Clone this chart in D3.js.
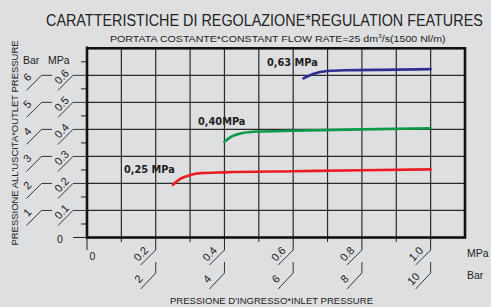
<!DOCTYPE html>
<html><head><meta charset="utf-8">
<script src="https://cdn.jsdelivr.net/npm/d3@7"></script>
<style>html,body{margin:0;padding:0;background:#dedfe1;}svg{display:block;}</style>
</head><body>
<script>
// ---- data ----
const xTicksMPa = ["0.2","0.4","0.6","0.8","1.0"];
const xTicksBar = ["2","4","6","8","10"];
const xTickVals = [0.2,0.4,0.6,0.8,1.0];
const yTicksMPa = ["0.1","0.2","0.3","0.4","0.5","0.6"];
const yTicksBar = ["1","2","3","4","5","6"];
const yTickVals = [0.1,0.2,0.3,0.4,0.5,0.6];
const seriesNames = ["0,25 MPa","0,40MPa","0,63 MPa"];
const redX   = [0.25,0.27,0.30,0.33,0.40,0.60,0.80,1.00];
const redY   = [0.195,0.216,0.231,0.238,0.241,0.245,0.249,0.252];
const greenX = [0.40,0.42,0.45,0.50,0.60,0.80,1.00];
const greenY = [0.354,0.373,0.386,0.392,0.395,0.400,0.404];
const blueX  = [0.63,0.66,0.70,0.75,0.90,1.00];
const blueY  = [0.589,0.606,0.616,0.619,0.621,0.623];

const W=491,H=307;
const svg=d3.select("body").append("svg").attr("width",W).attr("height",H);
const x=d3.scaleLinear().domain([0,1.1]).range([87,465]);
const y=d3.scaleLinear().domain([0,0.7]).range([237.5,48.3]);
const font="'Liberation Sans', Arial, sans-serif";
const ink="#222";

// titles (horizontally scaled to the reference width)
function fitText(sel, x0, target){
  const w=sel.node().getComputedTextLength();
  sel.attr("transform",`translate(${x0},0) scale(${target/w},1)`);
}
const title=svg.append("text").attr("x",0).attr("y",26)
  .attr("font-family",font).attr("font-size",16.5).attr("fill",ink)
  .text("CARATTERISTICHE DI REGOLAZIONE*REGULATION FEATURES");
fitText(title,46,437);
const sub=svg.append("text").attr("x",0).attr("y",42).attr("font-family",font).attr("font-size",9.5).attr("fill",ink);
sub.append("tspan").text("PORTATA COSTANTE*CONSTANT FLOW RATE=25 dm");
sub.append("tspan").attr("dy",-4).attr("font-size",6).text("3");
sub.append("tspan").attr("dy",4).text("/s(1500 Nl/m)");
fitText(sub,110,336);

// grid
const g=svg.append("g");
const xs=d3.range(1,11).map(i=>i/10);
g.selectAll(".vg").data(xs).enter().append("line")
  .attr("x1",d=>x(d)).attr("x2",d=>x(d)).attr("y1",y(0.7)).attr("y2",y(0))
  .attr("stroke","#2a2a2a").attr("stroke-width",1.2);
g.selectAll(".hg").data(yTickVals).enter().append("line")
  .attr("x1",x(0)).attr("x2",x(1.1)).attr("y1",d=>y(d)).attr("y2",d=>y(d))
  .attr("stroke","#2a2a2a").attr("stroke-width",1.2);

// x axis ticks below
g.selectAll(".xt").data(xs.concat([0])).enter().append("line")
  .attr("x1",d=>x(d)).attr("x2",d=>x(d)).attr("y1",y(0))
  .attr("y2",d=>(Math.round(d*10)%2===0)?250:242)
  .attr("stroke",ink).attr("stroke-width",1);
// x labels with slanted leaders
xTickVals.forEach((v,i)=>{
  const px=x(v);
  g.append("path").attr("d",`M${px},250 L${px-15},265`).attr("fill","none").attr("stroke",ink).attr("stroke-width",0.9);
  g.append("text").attr("transform",`translate(${px-12},${256.5}) rotate(-47)`).attr("text-anchor","middle")
    .attr("font-family",font).attr("font-size",11).attr("fill",ink).text(xTicksMPa[i]);
  g.append("path").attr("d",`M${px},262 L${px},273 L${px-15},289`).attr("fill","none").attr("stroke",ink).attr("stroke-width",0.9);
  g.append("text").attr("transform",`translate(${px-14.5},${281.5}) rotate(-47)`).attr("text-anchor","middle")
    .attr("font-family",font).attr("font-size",11).attr("fill",ink).text(xTicksBar[i]);
});
g.append("text").attr("x",92.5).attr("y",260).attr("text-anchor","middle").attr("font-family",font).attr("font-size",10.5).attr("fill",ink).text("0");
g.append("text").attr("x",467).attr("y",257).attr("font-family",font).attr("font-size",10.5).attr("fill",ink).text("MPa");
g.append("text").attr("x",467).attr("y",279).attr("font-family",font).attr("font-size",10.5).attr("fill",ink).text("Bar");
g.append("text").attr("x",271.5).attr("y",304).attr("text-anchor","middle").attr("font-family",font).attr("font-size",8.6).attr("fill",ink)
  .attr("textLength",203).attr("lengthAdjust","spacingAndGlyphs")
  .text("PRESSIONE D'INGRESSO*INLET PRESSURE");

// y axis
g.append("line").attr("x1",x(0)).attr("x2",x(0)).attr("y1",y(0.7)-2).attr("y2",y(0)).attr("stroke","#111").attr("stroke-width",1.5);
const minor=d3.range(0,7).map(i=>i/10+0.05);
g.selectAll(".ym").data(minor).enter().append("line")
  .attr("x1",x(0)-6).attr("x2",x(0)).attr("y1",d=>y(d)).attr("y2",d=>y(d)).attr("stroke",ink).attr("stroke-width",1);
g.append("line").attr("x1",73).attr("x2",x(0)).attr("y1",y(0)).attr("y2",y(0)).attr("stroke",ink).attr("stroke-width",1);
g.append("text").attr("x",60).attr("y",243).attr("text-anchor","middle").attr("font-family",font).attr("font-size",10.5).attr("fill",ink).text("0");
yTickVals.forEach((v,i)=>{
  const py=y(v);
  g.append("path").attr("d",`M${x(0)},${py} L73,${py} L58,${py+15}`).attr("fill","none").attr("stroke",ink).attr("stroke-width",0.9);
  g.append("text").attr("transform",`translate(${64.5},${py+4}) rotate(-47)`).attr("text-anchor","middle")
    .attr("font-family",font).attr("font-size",11).attr("fill",ink).text(yTicksMPa[i]);
  g.append("path").attr("d",`M52,${py} L41.5,${py} L26.5,${py+15}`).attr("fill","none").attr("stroke",ink).attr("stroke-width",0.9);
  g.append("text").attr("transform",`translate(${30},${py+4.5}) rotate(-47)`).attr("text-anchor","middle")
    .attr("font-family",font).attr("font-size",11).attr("fill",ink).text(yTicksBar[i]);
});
g.append("text").attr("x",23).attr("y",64).attr("font-family",font).attr("font-size",10.5).attr("fill",ink).text("Bar");
g.append("text").attr("x",48).attr("y",64).attr("font-family",font).attr("font-size",10.5).attr("fill",ink).text("MPa");
g.append("text").attr("transform","translate(17.5,143) rotate(-90)").attr("text-anchor","middle")
  .attr("font-family",font).attr("font-size",8.6).attr("fill",ink).attr("textLength",205).attr("lengthAdjust","spacingAndGlyphs")
  .text("PRESSIONE ALL'USCITA*OUTLET PRESSURE");

// frame
g.append("rect").attr("x",x(0)).attr("y",y(0.7)).attr("width",x(1.1)-x(0)).attr("height",y(0)-y(0.7))
  .attr("fill","none").attr("stroke","#111").attr("stroke-width",2.6);

// curves
const line=d3.line().x(d=>x(d[0])).y(d=>y(d[1])).curve(d3.curveMonotoneX);
const series=[[redX,redY,"#ec1c24"],[greenX,greenY,"#0a9b4a"],[blueX,blueY,"#2e3192"]];
series.forEach(([xa,ya,c])=>{
  g.append("path").datum(xa.map((v,i)=>[v,ya[i]])).attr("d",line)
   .attr("fill","none").attr("stroke",c).attr("stroke-width",2.6).attr("stroke-linecap","round");
});
// series labels
const lab=[[124,173],[198,125],[267,66]];
seriesNames.forEach((n,i)=>{
  g.append("text").attr("x",lab[i][0]).attr("y",lab[i][1]).attr("font-family","'DejaVu Sans', Verdana, sans-serif")
   .attr("font-weight","bold").attr("font-size",9.8).attr("fill",ink).text(n);
});
</script>
</body></html>
